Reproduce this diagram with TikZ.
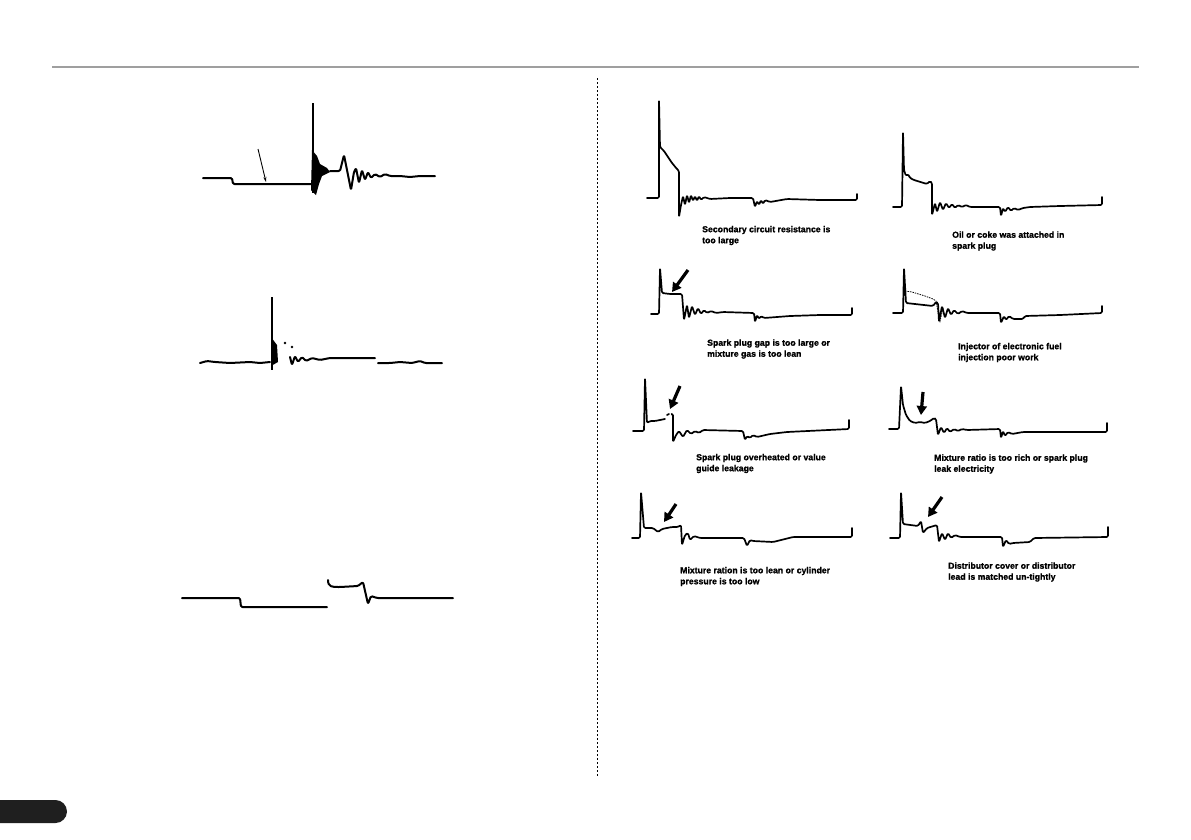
\documentclass[tikz,border=0pt]{standalone}
\usepackage{fontspec}
\setmainfont{Liberation Sans}
\newfontfamily\capfont[FakeBold=1.2]{Liberation Sans Bold}
\usetikzlibrary{arrows.meta}
\begin{document}
\begin{tikzpicture}[x=1pt,y=-1pt,
  wave/.style={line width=1.7pt,line join=round,line cap=round,rounded corners=1.3pt},
  lwave/.style={line width=2pt,line join=round,line cap=round,rounded corners=1.3pt},
  bigarrow/.style={line width=3.2pt,-{Triangle[length=9pt,width=10pt]}},
  caption/.style={anchor=west,align=left,font=\fontsize{8.7}{11}\selectfont\capfont,inner sep=0pt}]
\path[use as bounding box,fill=white] (0,0) rectangle (1191,839);
% header rule and divider
\draw[line width=2.6pt,gray!75] (52,67) -- (1139,67);
\draw[dashed,line width=0.6pt,dash pattern=on 2pt off 2pt] (597,78) -- (597,777);
% page tab
\fill[black!88,rounded corners=11.5pt] (-30,800) rectangle (67,823);

% ---------- left waveform 1 ----------
\draw[lwave] (203,178) -- (232,178) -- (233,184) -- (312,184);
\draw[line width=2.6pt] (313,103) -- (313,193);
\fill (312,150) -- (317,156) -- (320,164) -- (327,168) -- (330,172) -- (322,176) -- (319,184) -- (316,195) -- (311,190) -- cycle;
\draw[lwave] (330,171) -- (340,171) -- (344,155) -- (347,170) -- (351,190) -- (354,172) -- (356,168) -- (359,183) -- (362,170) -- (365,180) -- (368,172) -- (371,178) -- (375,174) -- (380,177) -- (385,174) -- (390,176) -- (400,176) -- (410,177) -- (420,176) -- (435,176);
\draw[line width=0.9pt,-{Stealth[length=5pt,width=3pt]}] (258,149) -- (266,182);

% ---------- left waveform 2 ----------
\draw[lwave] (200,363) -- (207,361) -- (215,362) -- (230,363) -- (250,362) -- (260,363) -- (270,362);
\draw[line width=2.2pt] (272,297) -- (272,370);
\fill (271,337) -- (277,345) -- (278,362) -- (271,366) -- cycle;
\fill (285,343) circle (1.4) (292,347) circle (1.4);
\draw[lwave] (290,357) -- (292,365) -- (295,356) -- (298,362) -- (302,357) -- (306,361) -- (312,358) -- (320,360) -- (330,358) -- (337,358) -- (375,358);
\draw[lwave] (378,363) -- (390,363) -- (400,362) -- (412,363) -- (420,361) -- (425,363) -- (442,363);

% ---------- left waveform 3 ----------
\draw[lwave] (182,598) -- (240,598) -- (241,607) -- (327,607);
\draw[lwave] (328,580) .. controls (328,587) and (332,587) .. (340,587) -- (358,586) -- (363,582) -- (368,604) -- (371,596) -- (377,598) -- (453,598);

% ---------- right panel 1 ----------
\draw[wave] (647,198) -- (659,198) -- (659,100) -- (660,147) -- (664,151) -- (668,157) -- (672,163) -- (677,169) -- (679,171) -- (679,217) -- (681,205) -- (683,196) -- (685,205) -- (687,195) -- (689,203) -- (691,195) -- (693,201) -- (695,196) -- (697,201) -- (699,196) -- (701,200) -- (704,197) -- (710,199) -- (730,198) -- (753,198) -- (755,207) -- (757,201) -- (759,205) -- (761,200) -- (763,204) -- (765,200) -- (770,202) -- (787,199) -- (820,200) -- (857,200) -- (857,194);
\node[caption] (t1) at (702,235.5) {Secondary circuit resistance is\\too large};

% ---------- right panel 2 ----------
\draw[wave] (893,207) -- (902,207) -- (903,132) -- (904,170) -- (906,176) -- (908,174) -- (910,178) -- (914,180) -- (927,184) -- (930,181) -- (932,183) -- (932,215) -- (935,203) -- (937,212) -- (940,202) -- (943,210) -- (946,203) -- (949,208) -- (952,204) -- (955,208) -- (958,205) -- (962,207) -- (966,205) -- (970,207) -- (1000,207) -- (1001,216) -- (1003,208) -- (1005,212) -- (1008,207) -- (1011,211) -- (1014,208) -- (1018,210) -- (1023,208) -- (1030,207) -- (1060,206) -- (1102,205) -- (1102,197);
\node[caption] (t2) at (952,241) {Oil or coke was attached in\\spark plug};

% ---------- right panel 3 ----------
\draw[wave] (651,314) -- (659,314) -- (660,268) -- (662,293) -- (670,294) -- (682,294) -- (684,320) -- (687,305) -- (689,318) -- (692,306) -- (695,315) -- (698,308) -- (701,314) -- (704,310) -- (707,313) -- (711,311) -- (716,313) -- (723,312) -- (754,313) -- (755,322) -- (757,315) -- (759,319) -- (761,316) -- (764,318) -- (790,316) -- (820,315) -- (852,315) -- (852,308);
\draw[bigarrow] (688,270) -- (672,292);
\node[caption] (t3) at (707,349) {Spark plug gap is too large or\\mixture gas is too lean};

% ---------- right panel 4 ----------
\draw[wave] (893,313) -- (903,313) -- (904,268) -- (906,303) -- (933,306) -- (936,302) -- (938,303) -- (939,322) -- (942,306) -- (945,318) -- (948,308) -- (951,315) -- (954,310) -- (958,314) -- (962,311) -- (967,313) -- (1000,313) -- (1001,323) -- (1004,316) -- (1006,320) -- (1009,316) -- (1013,319) -- (1023,319) -- (1025,316) -- (1060,315) -- (1102,313) -- (1102,306);
\draw[line width=0.8pt,dash pattern=on 1.5pt off 1pt] (905,291) -- (912,292) -- (925,296) -- (933,299) -- (936,301) -- (938,312) -- (940,321) -- (943,308);
\node[caption] (t4) at (958,352.5) {Injector of electronic fuel\\injection poor work};

% ---------- right panel 5 ----------
\draw[wave] (633,431) -- (644,431) -- (645,378) -- (647,423) -- (650,421) -- (655,421) -- (665,419);
\draw[wave] (667,415) -- (669,414);
\draw[wave] (672,414) -- (673,414) -- (673,442) -- (676,435) -- (679,431) -- (683,437) -- (687,430) -- (691,434) -- (695,431) -- (699,433) -- (703,430) -- (743,431) -- (745,440) -- (747,436) -- (750,438) -- (753,435) -- (757,437) -- (770,434) -- (787,432) -- (849,429) -- (849,420);
\draw[bigarrow] (680,386) -- (670,409);
\node[caption] (t5) at (696,463.5) {Spark plug overheated or value\\guide leakage};

% ---------- right panel 6 ----------
\draw[wave] (889,429) -- (899,429) -- (901,386) -- (903,405) -- (906,415) -- (910,421) -- (915,423) -- (920,422) -- (925,423) -- (930,421) -- (934,418) -- (936,419) -- (938,435) -- (941,427) -- (944,433) -- (947,428) -- (950,432) -- (954,429) -- (958,431) -- (962,429) -- (967,430) -- (1000,429) -- (1001,438) -- (1003,431) -- (1005,436) -- (1008,432) -- (1012,434) -- (1023,432) -- (1060,432) -- (1107,432) -- (1107,423);
\draw[bigarrow] (923,392) -- (921,415);
\node[caption] (t6) at (934,464) {Mixture ratio is too rich or spark plug\\leak electricity};

% ---------- right panel 7 ----------
\draw[wave] (632,538) -- (640,538) -- (641,492) -- (644,528) -- (653,528) -- (658,532) -- (662,529) -- (667,528) -- (672,527) -- (678,527) -- (681,525) -- (682,545) -- (685,535) -- (688,533) -- (690,540) -- (694,536) -- (700,538) -- (744,538) -- (747,546) -- (750,540) -- (753,541) -- (773,542) -- (793,537) -- (852,537) -- (852,528);
\draw[bigarrow] (676,504) -- (664,522);
\node[caption] (t7) at (680,576.5) {Mixture ration is too lean or cylinder\\pressure is too low};

% ---------- right panel 8 ----------
\draw[wave] (890,538) -- (900,538) -- (901,492) -- (903,524) -- (918,526) -- (921,521) -- (923,533) -- (927,528) -- (937,525) -- (939,542) -- (942,533) -- (945,540) -- (948,533) -- (951,538) -- (955,535) -- (960,537) -- (970,537) -- (1002,537) -- (1003,547) -- (1006,540) -- (1009,544) -- (1013,543) -- (1030,542) -- (1034,538) -- (1108,537) -- (1108,527);
\draw[bigarrow] (942,497) -- (928,517);
\node[caption] (t8) at (948,572) {Distributor cover or distributor\\lead is matched un-tightly};
\end{tikzpicture}
\end{document}
